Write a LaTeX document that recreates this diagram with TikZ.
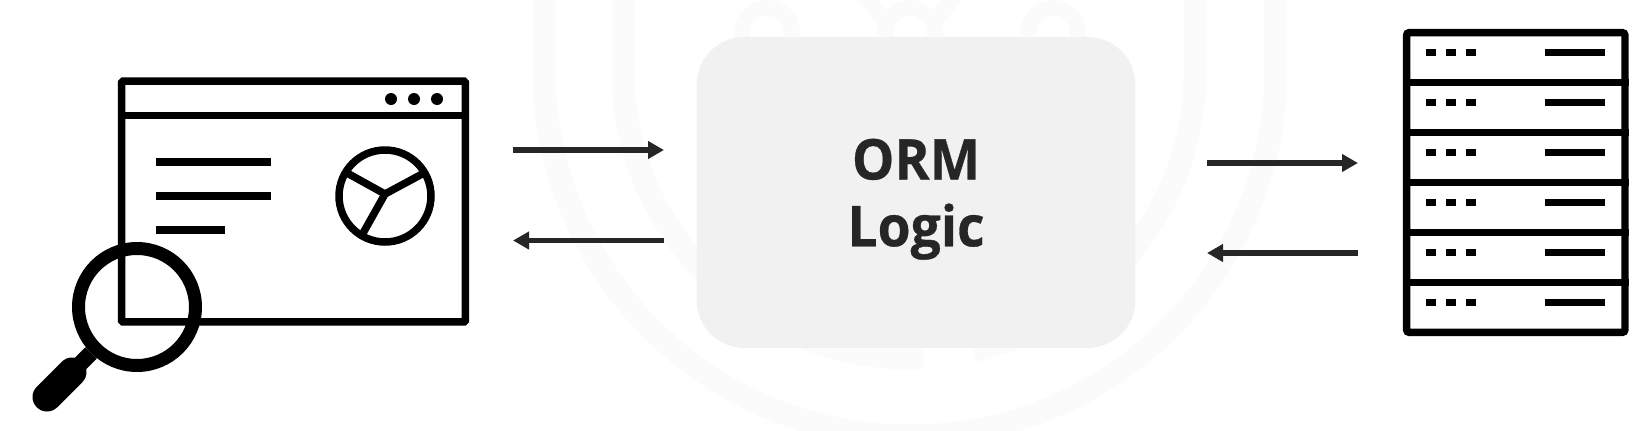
\documentclass[tikz,border=0pt]{standalone}
\usepackage{fontspec}
\setmainfont[FakeStretch=0.95, BoldFeatures={FakeBold=0.5}]{Open Sans}
\usetikzlibrary{arrows.meta, calc}

\definecolor{inkblack}{HTML}{000000}
\definecolor{arrowgray}{HTML}{262626}
\definecolor{boxgray}{HTML}{F1F1F2}
\definecolor{ringgray}{HTML}{FBFBFC}

\tikzset{
    iconline/.style={draw=inkblack, line width=0.15cm},
    textbar/.style={draw=inkblack, line width=0.16cm},
    flow/.style={draw=arrowgray, line width=0.11cm, -{Triangle[length=0.32cm, width=0.34cm]}},
    ring/.style={draw=ringgray, line width=0.46cm},
    arch/.style={draw=ringgray, line width=0.32cm}
}

\begin{document}
\begin{tikzpicture}[x=0.02cm, y=-0.02cm]
    \useasboundingbox (0,0) rectangle (1646,430);

    % faint rings behind the box
    \begin{scope}
        \clip (0,0) rectangle (1646,430);
        \draw [ring] (544,-20) -- (544,70) arc [start angle=180, end angle=360, radius=7.32cm] -- (1276,-20);
        \draw [ring] (623,-20) -- (623,72) arc [start angle=180, end angle=273, radius=5.72cm];
        \draw [ring] (1195,-20) -- (1195,72) arc [start angle=360, end angle=283, radius=5.72cm];
        \foreach \x in {767,910,1053} {
            \draw [arch] (\x-25,60) -- (\x-25,33) arc [start angle=180, end angle=0, radius=0.5cm] -- (\x+25,60);
        }
        \draw [arch] (885,22) -- (862,-8);
        \draw [arch] (935,22) -- (958,-8);
    \end{scope}

    % nodes
    \node (logic) at (916,192.5) [fill=boxgray, rounded corners=0.96cm, minimum width=8.78cm, minimum height=6.22cm,
        align=center, text=arrowgray, font=\fontsize{32}{38}\selectfont\bfseries, text depth=0pt] {ORM\\Logic};
    \node (browser) at (293.5,201.5) [iconline, rounded corners=0.03cm, minimum width=6.88cm, minimum height=4.82cm] {};
    \node (server) at (1515.75,182.5) [iconline, rounded corners=0.06cm, minimum width=4.37cm, minimum height=6cm] {};

    % browser window
    \draw [iconline] (browser.west |- 0,115.5) -- (browser.east |- 0,115.5);
    \foreach \x in {391,414,437} { \fill [inkblack] (\x,99) circle (0.12cm); }
    \draw [textbar] (156,162) -- (271,162);
    \draw [textbar] (156,196) -- (271,196);
    \draw [textbar] (156,230) -- (225,230);
    \node (pie) at (385,196) [iconline, circle, inner sep=0pt, minimum size=1.84cm] {};
    \coordinate (hub) at (385,194);
    \draw [iconline, line join=round] (347,173) -- (hub) -- (424,173);
    \draw [iconline] (hub) -- (362,235);

    % magnifier
    \node (lens) at (137,307) [draw=inkblack, line width=0.26cm, circle, inner sep=0pt, minimum size=2.34cm] {};
    \coordinate (grip) at (72,372);
    \coordinate (tail) at (47,397);
    \draw [draw=inkblack, line width=0.32cm] (lens.225) -- (grip);
    \draw [draw=inkblack, line width=0.58cm, line cap=round] (grip) -- (tail);

    % server rows
    \foreach \y in {82.3,132.3,182.3,232.3,282.3} {
        \draw [iconline] (server.west |- 0,\y) -- (server.east |- 0,\y);
    }
    \foreach \y in {52.3,102.3,152.3,202.3,252.3,302.3} {
        \foreach \x in {1430.7,1450.7,1470.7} { \fill [inkblack] (\x-5,\y-3.5) rectangle (\x+5,\y+3.5); }
        \draw [iconline] (1545,\y) -- (1605,\y);
    }

    % arrows
    \coordinate (a1) at (513,150);
    \coordinate (a2) at (664,150);
    \coordinate (a3) at (513,240.5);
    \coordinate (a4) at (664,240.5);
    \coordinate (b1) at (1207,163);
    \coordinate (b2) at (1358,163);
    \coordinate (b3) at (1207,253);
    \coordinate (b4) at (1358,253);
    \draw [flow] (a1) -- (a2);
    \draw [flow] (a4) -- (a3);
    \draw [flow] (b1) -- (b2);
    \draw [flow] (b4) -- (b3);
\end{tikzpicture}
\end{document}
